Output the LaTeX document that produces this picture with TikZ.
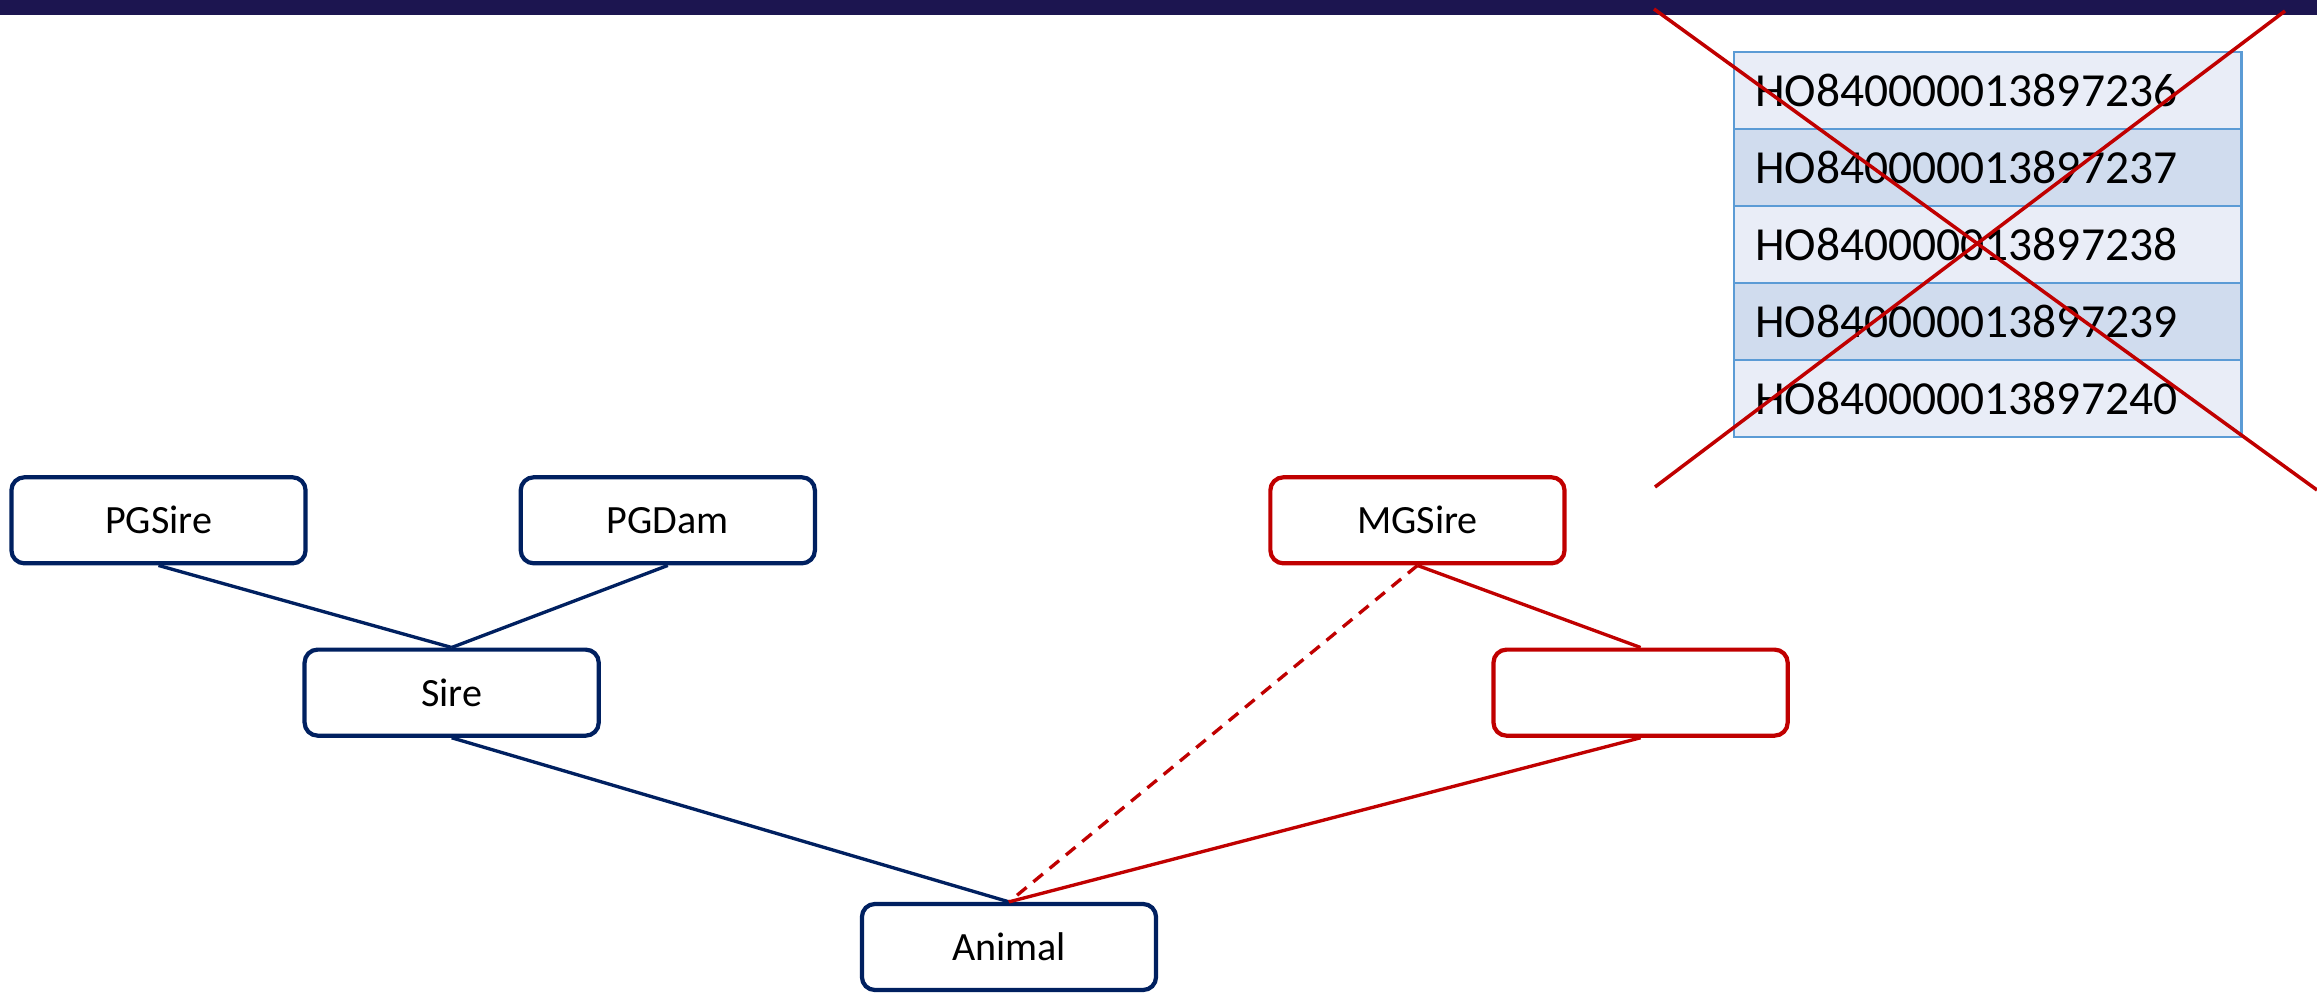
\documentclass[tikz,border=0pt]{standalone}
\usepackage{fontspec}
\setmainfont{Carlito}
\usetikzlibrary{positioning}
\definecolor{barblue}{HTML}{1C1550}
\definecolor{navy}{HTML}{002060}
\definecolor{darkred}{HTML}{C00000}
\definecolor{rowlight}{HTML}{E9EDF7}
\definecolor{rowdark}{HTML}{D0DCEE}
\definecolor{rowline}{HTML}{5B9BD5}

\begin{document}
\begin{tikzpicture}[x=0.01cm, y=-0.01cm,
  famnode/.style={draw=navy, line width=1.2pt, rounded corners=0.13cm, fill=white,
    minimum width=2.94cm, minimum height=0.86cm, inner sep=0pt,
    font=\fontsize{11.4}{13.7}\selectfont},
  mgnode/.style={famnode, draw=darkred},
  idrow/.style={draw=rowline, line width=0.7pt, anchor=west, text width=4.65cm,
    inner xsep=0.21cm, minimum height=0.77cm, align=left,
    font=\fontsize{13.5}{16}\selectfont},
  famedge/.style={draw=navy, line width=0.95pt},
  mgedge/.style={draw=darkred, line width=0.95pt},
  crossline/.style={draw=darkred, line width=1pt}]
\useasboundingbox (0,0) rectangle (2317,994);
% top bar %
\fill[barblue] (0,0) rectangle (2317,15);
% nodes %
\node[famnode] (animal) at (1009,947) {Animal};
\node[famnode, above=1.64cm of animal, xshift=-5.57cm] (sire) {Sire};
\node[famnode, above=0.82cm of sire, xshift=-2.93cm] (pgsire) {PGSire};
\node[famnode, above=0.82cm of sire, xshift=2.16cm] (pgdam) {PGDam};
\node[mgnode, right=4.51cm of pgdam] (mgsire) {MGSire};
\node[mgnode, right=8.90cm of sire] (dam) {};
% edges %
\draw[famedge] (pgsire.south) -- (sire.north);
\draw[famedge] (pgdam.south) -- (sire.north);
\draw[famedge] (sire.south) -- (animal.north);
\draw[mgedge, dash pattern=on 3.5pt off 2.5pt] (mgsire.south) -- (animal.north);
\draw[mgedge] (mgsire.south) -- (dam.north);
\draw[mgedge] (dam.south) -- (animal.north);
% crossed out id list %
\foreach \id/\shade [count=\i] in {236/rowlight,237/rowdark,238/rowlight,239/rowdark,240/rowlight} {
  \node[idrow, fill=\shade] (id\i) at (1733,{52+77*(\i-0.5)}) {HO840000013897\id};
}
\draw[crossline] (1654,9) -- (2317,490);
\draw[crossline] (2285,11) -- (1655,487);
\end{tikzpicture}
\end{document}
